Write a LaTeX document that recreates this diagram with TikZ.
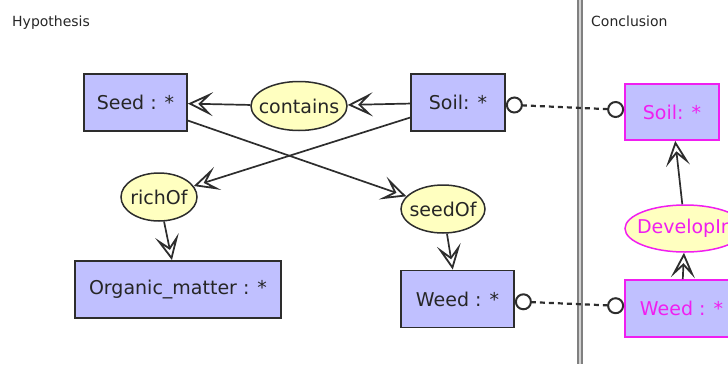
\documentclass[tikz,border=0pt]{standalone}
\usepackage{fontspec}
\setmainfont{DejaVu Sans}
\usetikzlibrary{shapes.geometric, arrows.meta}

\definecolor{conceptfill}{RGB}{192,192,255}
\definecolor{relfill}{RGB}{255,255,192}
\definecolor{conclpink}{RGB}{240,30,240}
\definecolor{edgegray}{RGB}{45,45,45}

\newcommand{\ovaltext}[1]{\makebox[0pt]{#1}}

\begin{document}
\begin{tikzpicture}[x=1pt, y=-1pt,
    concept/.style={draw=edgegray, line width=1.8pt, fill=conceptfill, text=black!85,
        font=\fontsize{19}{21}\selectfont, minimum height=57pt},
    relation/.style={ellipse, draw=edgegray, line width=1.5pt, fill=relfill, text=black!85,
        font=\fontsize{19}{21}\selectfont, inner sep=0pt},
    concl/.style={draw=conclpink, text=conclpink},
    link/.style={draw=edgegray, line width=1.7pt,
        -{Stealth[open, length=25pt, width=24pt, inset=12pt, line width=1.8pt]}},
    corefer/.style={draw=edgegray, line width=2.2pt, dash pattern=on 5pt off 4pt,
        {Circle[open, length=17pt, line width=2pt]}-{Circle[open, length=17pt, line width=2pt]}},
    header/.style={anchor=base west, inner sep=0pt, text=black!85, font=\fontsize{14}{16}\selectfont}
]
            \path[use as bounding box] (0,0) rectangle (728,364);
            \clip (0,0) rectangle (728,364);
            % hypothesis and conclusion panes
            \node[header] at (12,27) (hyp) {Hypothesis};
            \node[header] at (591,27) (concl) {Conclusion};
            \draw[gray, line width=1.4pt, double=gray!35, double distance=2.5pt] (580,0) -- (580,364);
            % concepts
            \node[concept, minimum width=103pt] at (135.5,102.5) (seed) {Seed : *};
            \node[concept, minimum width=94pt] at (458,102.5) (soil) {Soil: *};
            \node[concept, minimum width=206pt] at (178,289.5) (organic) {Organic\_matter : *};
            \node[concept, minimum width=113pt] at (457.5,299) (weed) {Weed : *};
            \node[concept, concl, minimum width=94pt, minimum height=56pt] at (672,112) (soilc) {Soil: *};
            \node[concept, concl, minimum width=113pt] at (681.5,308.5) (weedc) {Weed : *};
            % relations
            \node[relation, minimum width=96pt, minimum height=49pt] at (299,106) (contains) {\ovaltext{contains}};
            \node[relation, minimum width=76pt, minimum height=48pt] at (159,197) (richof) {\ovaltext{richOf}};
            \node[relation, minimum width=84pt, minimum height=48pt] at (443,209) (seedof) {\ovaltext{seedOf}};
            \node[relation, concl, minimum width=120pt, minimum height=47pt] at (685,228.5) (developin) {\ovaltext{DevelopIn}};
            % edges
            \draw[link] (soil) -- (contains);
            \draw[link] (contains) -- (seed);
            \draw[link] (soil) -- (richof);
            \draw[link] (seed) -- (seedof);
            \draw[link] (richof) -- (organic);
            \draw[link] (seedof) -- (weed);
            \draw[link] (weedc) -- (developin);
            \draw[link] (developin) -- (soilc);
            % coreference links
            \draw[corefer] (soil) -- (soilc);
            \draw[corefer] (weed) -- (weedc);
        \end{tikzpicture}
\end{document}
